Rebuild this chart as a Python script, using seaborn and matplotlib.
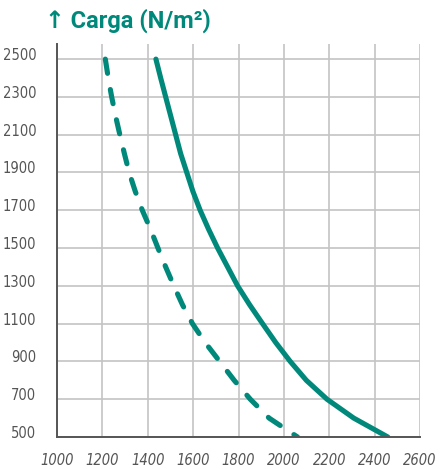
import matplotlib
matplotlib.use("Agg")
import matplotlib.pyplot as plt
import matplotlib.transforms as mtransforms
import pandas as pd
import seaborn as sns

# values (every 100 N/m2)
carga = [2500, 2400, 2300, 2200, 2100, 2000, 1900, 1800, 1700, 1600, 1500,
         1400, 1300, 1200, 1100, 1000, 900, 800, 700, 600, 500]
solida = [1436, 1457, 1479, 1501, 1523, 1545, 1572, 1599, 1631, 1668, 1708,
          1752, 1796, 1849, 1906, 1964, 2028, 2099, 2190, 2308, 2458]
tracejada = [1213, 1226, 1241, 1258, 1277, 1297, 1318, 1345, 1376, 1412, 1445,
             1479, 1515, 1553, 1597, 1653, 1717, 1781, 1852, 1935, 2060]

x_ticks = [1000, 1200, 1400, 1600, 1800, 2000, 2200, 2400, 2600]
y_ticks = [500, 700, 900, 1100, 1300, 1500, 1700, 1900, 2100, 2300, 2500]

teal = "#00897B"
grid_c = "#c4c4c4"
dark = "#555555"

df = pd.DataFrame({
    "vao": solida + tracejada,
    "carga": carga + carga,
    "tipo": ["solida"] * len(carga) + ["tracejada"] * len(carga),
})

sns.set_style("white")
plt.rcParams["font.family"] = ["DejaVu Sans"]
plt.rcParams["font.stretch"] = "condensed"

fig = plt.figure(figsize=(4.44, 4.69), dpi=100)
ax = fig.add_axes([57 / 444, 1 - 437 / 469, (420 - 57) / 444, (437 - 44) / 469])

sns.lineplot(data=df, x="vao", y="carga", style="tipo",
             dashes={"solida": "", "tracejada": (2.8, 3.2)},
             color=teal, linewidth=3.7, estimator=None, legend=False,
             solid_capstyle="round", dash_capstyle="round",
             solid_joinstyle="round", ax=ax, zorder=3)

ax.set_xlim(1000, 2600)
ax.set_ylim(500, 2580)
ax.set_xticks(x_ticks)
ax.set_yticks(y_ticks)
ax.grid(True, color=grid_c, linewidth=1.2)
ax.set_axisbelow(True)
ax.set_xlabel("")
ax.set_ylabel("")

for s in ["top", "right"]:
    ax.spines[s].set_visible(False)
for s in ["left", "bottom"]:
    ax.spines[s].set_color(dark)
    ax.spines[s].set_linewidth(1.4)
    ax.spines[s].set_zorder(4)

ax.tick_params(axis="x", length=7, width=1.2, color=grid_c, pad=4.5,
               labelsize=10.5, labelcolor=dark)
ax.tick_params(axis="y", length=7, width=1.2, color=grid_c, pad=8,
               labelsize=10.5, labelcolor=dark)
ax.xaxis.get_major_ticks()[0].tick1line.set_color(dark)
ax.xaxis.get_major_ticks()[0].tick1line.set_markeredgewidth(1.4)

for lab in ax.get_xticklabels():
    lab.set_style("italic")
offset = mtransforms.ScaledTranslation(0, 5 / 100, fig.dpi_scale_trans)
for lab in ax.get_yticklabels():
    lab.set_transform(lab.get_transform() + offset)

fig.text(45 / 444, 1 - 21 / 469, "↑ Carga (N/m²)", color=teal,
         fontsize=17, fontweight="bold", va="center", ha="left",
         family=["Roboto", "DejaVu Sans"], stretch="normal")

fig.savefig("out.png", dpi=100)
